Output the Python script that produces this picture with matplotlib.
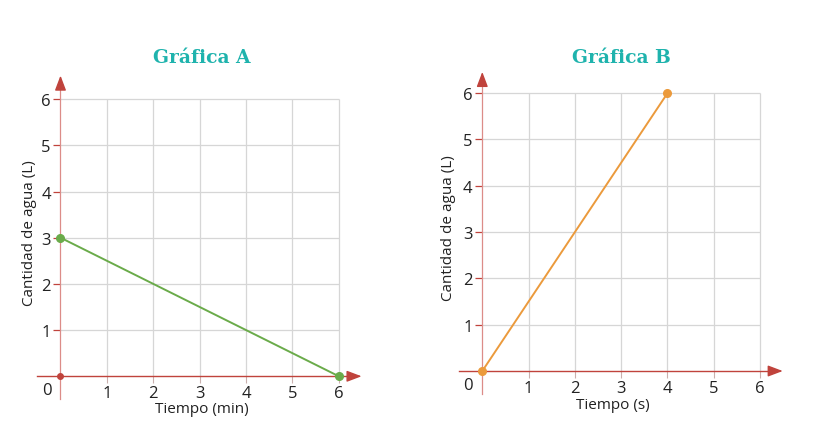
import matplotlib
matplotlib.use("Agg")
import matplotlib.pyplot as plt

# ---- data ----
titles = ["Gráfica A", "Gráfica B"]
xlabels = ["Tiempo (min)", "Tiempo (s)"]
ylabel = "Cantidad de agua (L)"
ticks = [1, 2, 3, 4, 5, 6]
tick_labels = ["1", "2", "3", "4", "5", "6"]
a_time = [0, 6]
a_water = [3, 0]
b_time = [0, 4]
b_water = [0, 6]

plt.rcParams['font.family'] = ['Open Sans', 'DejaVu Sans']

W, H = 833, 431
fig = plt.figure(figsize=(W / 100, H / 100), dpi=100)

TEAL = "#1fb3ad"
AXRED = "#c0433c"
AXPINK = "#dc8c88"
GRID = "#d6d6d6"
GREEN = "#6aab4a"
ORANGE = "#eb9a3c"
TEXT = "#222222"

def px_axes(left_px, top_px, width_px, height_px):
    return fig.add_axes([left_px / W, 1 - (top_px + height_px) / H,
                         width_px / W, height_px / H])

def setup(ax, xtip, ytip):
    ax.set_xlim(-0.5, 6.6)
    ax.set_ylim(-0.6, 6.6)
    for s in ("top", "right"):
        ax.spines[s].set_visible(False)
    ax.spines["left"].set_position(("data", 0))
    ax.spines["bottom"].set_position(("data", 0))
    ax.spines["left"].set_bounds(-0.5, ytip - 0.2)
    ax.spines["bottom"].set_bounds(-0.5, xtip - 0.2)
    ax.spines["left"].set_color(AXPINK)
    ax.spines["left"].set_linewidth(0.9)
    ax.spines["bottom"].set_color(AXRED)
    ax.spines["bottom"].set_linewidth(1.0)
    ax.set_zorder(1)
    # grid
    ax.hlines(ticks, 0, 6, color=GRID, lw=0.9, zorder=0)
    ax.vlines(ticks, 0, 6, color=GRID, lw=0.9, zorder=0)
    # ticks
    ax.set_xticks(ticks)
    ax.set_xticklabels(tick_labels)
    ax.set_yticks(ticks)
    ax.set_yticklabels(tick_labels)
    ax.tick_params(axis="x", direction="out", length=5, width=0.8,
                   color="#c9b0ae", labelsize=12, labelcolor=TEXT, pad=1.5)
    ax.tick_params(axis="y", direction="out", length=5, width=0.9,
                   color=AXRED, labelsize=12, labelcolor=TEXT, pad=2.0)
    ax.patch.set_alpha(0)
    # arrows
    ax.annotate("", xy=(xtip, 0), xytext=(xtip - 0.3, 0),
                arrowprops=dict(arrowstyle="-|>,head_length=0.9,head_width=0.34",
                                color=AXRED, lw=1.0, shrinkA=0, shrinkB=0),
                annotation_clip=False)
    ax.annotate("", xy=(0, ytip), xytext=(0, ytip - 0.3),
                arrowprops=dict(arrowstyle="-|>,head_length=0.9,head_width=0.34",
                                color=AXRED, lw=1.0, shrinkA=0, shrinkB=0),
                annotation_clip=False)
    ax.text(-0.3, -0.12, "0", ha="center", va="top", fontsize=12, color=TEXT)

ax_a = px_axes(37.3, 72.4, 329.4, 332.6)
setup(ax_a, 6.49, 6.51)
ax_a.plot(a_time, a_water, color=GREEN, lw=1.4, marker="o", ms=5.5,
          clip_on=False, zorder=3)
ax_a.plot([0], [0], "o", color=AXRED, ms=4, clip_on=False, zorder=3)

ax_b = px_axes(459.15, 66.4, 328.7, 333.4)
setup(ax_b, 6.49, 6.46)
ax_b.plot(b_time, b_water, color=ORANGE, lw=1.4, marker="o", ms=5.5,
          clip_on=False, zorder=3)

# titles
fig.text(201.7 / W, 1 - 58 / H, titles[0], ha="center", va="center",
         fontsize=13.5, fontweight="bold", color=TEAL, family="DejaVu Serif")
fig.text(621.7 / W, 1 - 58 / H, titles[1], ha="center", va="center",
         fontsize=13.5, fontweight="bold", color=TEAL, family="DejaVu Serif")
# axis labels
fig.text(29.5 / W, 1 - 233 / H, ylabel, rotation=90, ha="center", va="center",
         fontsize=11, color=TEXT)
fig.text(448 / W, 1 - 228 / H, ylabel, rotation=90, ha="center", va="center",
         fontsize=11, color=TEXT)
fig.text(202 / W, 1 - 410 / H, xlabels[0], ha="center", va="center",
         fontsize=11, color=TEXT)
fig.text(613 / W, 1 - 406 / H, xlabels[1], ha="center", va="center",
         fontsize=11, color=TEXT)

fig.savefig("out.png", dpi=100, facecolor="white")
